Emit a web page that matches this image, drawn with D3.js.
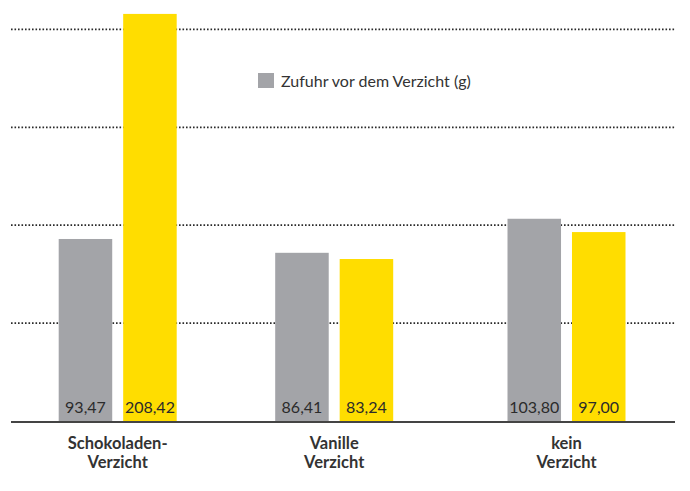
<!DOCTYPE html>
<html><head><meta charset="utf-8">
<script src="https://cdn.jsdelivr.net/npm/d3@7"></script>
<style>
html,body{margin:0;padding:0;background:#fff;}
svg{display:block;font-family:Lato,"Open Sans",sans-serif;}
</style></head>
<body><svg id="c" width="690" height="491"></svg>
<script>
const categories = ["Schokoladen-\nVerzicht", "Vanille\nVerzicht", "kein\nVerzicht"];
const seriesNames = ["Zufuhr vor dem Verzicht (g)", "Zufuhr nach dem Verzicht (g)"];
const before = [93.47, 86.41, 103.80];
const after = [208.42, 83.24, 97.00];
const gridTicks = [50, 100, 150, 200];
const labelsBefore = ["93,47", "86,41", "103,80"];
const labelsAfter = ["208,42", "83,24", "97,00"];

const colors = ["#a3a4a8", "#ffdd00"];
const svg = d3.select("#c");
const y = d3.scaleLinear().domain([0, 200]).range([422, 30.4]);
const xGroup = d3.scaleOrdinal().domain(categories).range([117.7, 334.2, 566.5]);
const xSeries = d3.scaleBand().domain([0, 1]).range([-59, 59]).paddingInner(0.17);

// gridlines
svg.append("g").selectAll("line").data(gridTicks).join("line")
  .attr("x1", 11).attr("x2", 676)
  .attr("y1", d => y(d) - 1).attr("y2", d => y(d) - 1)
  .attr("stroke", "#2a2a2a").attr("stroke-width", 1.8)
  .attr("stroke-dasharray", "1.6,1.9");

const data = categories.map((c, i) => ({c, vals: [before[i], after[i]], labels: [labelsBefore[i], labelsAfter[i]]}));
const g = svg.append("g").selectAll("g").data(data).join("g")
  .attr("transform", d => `translate(${xGroup(d.c)},0)`);
g.selectAll("rect").data(d => d.vals.map((v, s) => ({v, s}))).join("rect")
  .attr("x", d => xSeries(d.s)).attr("width", xSeries.bandwidth())
  .attr("y", d => y(d.v)).attr("height", d => y(0) - y(d.v))
  .attr("fill", d => colors[d.s]);
g.selectAll("text.v").data(d => d.labels.map((l, s) => ({l, s}))).join("text")
  .attr("class", "v")
  .attr("x", d => xSeries(d.s) + xSeries.bandwidth() / 2).attr("y", 413)
  .attr("text-anchor", "middle").attr("font-size", 16).attr("fill", "#2b2b2b")
  .text(d => d.l);

// baseline
svg.append("line").attr("x1", 11).attr("x2", 675).attr("y1", y(0)).attr("y2", y(0))
  .attr("stroke", "#444").attr("stroke-width", 2);

// category labels
g.append("text").attr("text-anchor", "middle").attr("font-weight", "bold")
  .attr("font-size", 16.5).attr("fill", "#333")
  .selectAll("tspan").data(d => d.c.split("\n")).join("tspan")
  .attr("x", 0).attr("y", (d, i) => 448.5 + i * 19.3).text(d => d);

// legend (only first series shown)
const lg = svg.append("g").attr("transform", "translate(258,73)");
lg.append("rect").attr("width", 16).attr("height", 15).attr("fill", colors[0]);
lg.append("text").attr("x", 23).attr("y", 14).attr("font-size", 16).attr("fill", "#333")
  .text(seriesNames[0]);
</script></body></html>
